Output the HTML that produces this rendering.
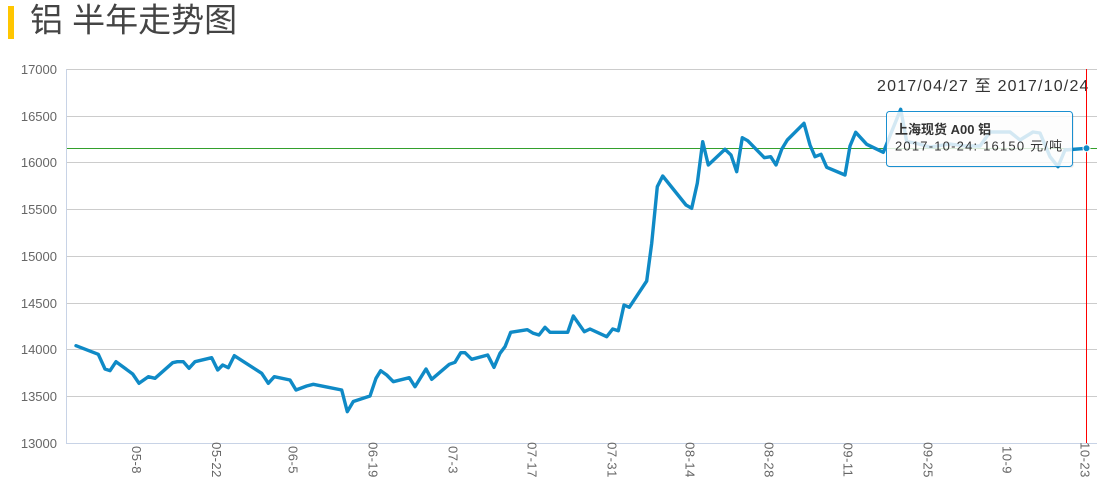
<!DOCTYPE html>
<html>
<head>
<meta charset="utf-8">
<style>
  html,body{margin:0;padding:0;background:#fff;}
  body{width:1116px;height:495px;overflow:hidden;position:relative;}
  svg{position:absolute;left:0;top:0;}
  .yl{font-family:"Liberation Sans","Noto Sans CJK SC",sans-serif;font-size:13px;fill:#666;}
  .xl{font-family:"Liberation Sans","Noto Sans CJK SC",sans-serif;font-size:13px;fill:#666;letter-spacing:0.5px;}
</style>
</head>
<body>
<svg width="1116" height="495" viewBox="0 0 1116 495" xmlns="http://www.w3.org/2000/svg">
  <!-- title -->
  <rect x="8" y="6" width="6" height="33" fill="#ffc600"/>
  <text x="30" y="31.5" font-family="'Liberation Sans','Noto Sans CJK SC',sans-serif" font-size="33" fill="#444">铝 半年走势图</text>

  <!-- gridlines -->
  <g stroke="#cccccc" stroke-width="1">
    <line x1="67" y1="69.5" x2="1097" y2="69.5"/>
    <line x1="67" y1="116.5" x2="1097" y2="116.5"/>
    <line x1="67" y1="162.5" x2="1097" y2="162.5"/>
    <line x1="67" y1="209.5" x2="1097" y2="209.5"/>
    <line x1="67" y1="256.5" x2="1097" y2="256.5"/>
    <line x1="67" y1="303.5" x2="1097" y2="303.5"/>
    <line x1="67" y1="349.5" x2="1097" y2="349.5"/>
    <line x1="67" y1="396.5" x2="1097" y2="396.5"/>
  </g>
  <!-- axes -->
  <line x1="66.5" y1="69" x2="66.5" y2="443.5" stroke="#c8d3e6" stroke-width="1"/>
  <line x1="66" y1="443.5" x2="1097" y2="443.5" stroke="#c8d3e6" stroke-width="1"/>

  <!-- y labels -->
  <g class="yl" text-anchor="end">
    <text x="57" y="74">17000</text>
    <text x="57" y="121">16500</text>
    <text x="57" y="167">16000</text>
    <text x="57" y="214">15500</text>
    <text x="57" y="261">15000</text>
    <text x="57" y="308">14500</text>
    <text x="57" y="354">14000</text>
    <text x="57" y="401">13500</text>
    <text x="57" y="448">13000</text>
  </g>

  <!-- x labels (rotated) -->
  <g class="xl" text-anchor="middle">
    <text transform="translate(136.7,460) rotate(90)" dy="0.35em">05-8</text>
    <text transform="translate(216.7,460) rotate(90)" dy="0.35em">05-22</text>
    <text transform="translate(293,460) rotate(90)" dy="0.35em">06-5</text>
    <text transform="translate(373,460) rotate(90)" dy="0.35em">06-19</text>
    <text transform="translate(453,460) rotate(90)" dy="0.35em">07-3</text>
    <text transform="translate(532,460) rotate(90)" dy="0.35em">07-17</text>
    <text transform="translate(612,460) rotate(90)" dy="0.35em">07-31</text>
    <text transform="translate(690,460) rotate(90)" dy="0.35em">08-14</text>
    <text transform="translate(769,460) rotate(90)" dy="0.35em">08-28</text>
    <text transform="translate(848,460) rotate(90)" dy="0.35em">09-11</text>
    <text transform="translate(928,460) rotate(90)" dy="0.35em">09-25</text>
    <text transform="translate(1007,460) rotate(90)" dy="0.35em">10-9</text>
    <text transform="translate(1085,460) rotate(90)" dy="0.35em">10-23</text>
  </g>

  <!-- green reference line -->
  <line x1="67" y1="148.5" x2="1097" y2="148.5" stroke="#33a02c" stroke-width="1"/>

  <!-- date range -->
  <text x="877" y="91" font-family="'Liberation Sans','Noto Sans CJK SC',sans-serif" font-size="16" fill="#333" letter-spacing="1.2">2017/04/27 至 2017/10/24</text>

  <!-- series -->
  <polyline fill="none" stroke="#0f8ac6" stroke-width="3.4" stroke-linejoin="round" stroke-linecap="round" points="
76,345.7 98.3,354.3 105,369 110,370.7 116,361.7 132.7,374 139,383.3 148.3,376.7 155,378.3 172.7,362.7 177.3,361.7 183.3,361.7 189,368.3 195,361.7 211.7,357.7 217.7,370 222.7,365 228.3,367.7 234.3,355.7 261.7,373.3 268.3,383.3 274.3,376.7 290,380 296,390 306.7,386 313.3,384.3 328.3,387.3 341.7,390 347.3,411.7 353.3,401.5 370,396 376,378.3 380.7,370.7 386.7,375 393.3,381.7 409.3,377.7 415,386.7 426,369 431.7,379.3 449.3,364.3 455,362.3 460.7,352.7 465,352.7 471.7,359.3 487.7,355 494,367.3 500,353.3 505,346.7 510.7,332.3 527.3,329.7 533.3,333.3 539,335 545,327.3 550,332.3 567.7,332.3 573.3,316 584.3,331.7 590,329 606.7,336.7 612.7,329 618.3,330.7 624,305 629.3,307.3 646.7,281 651.7,243.3 657.3,186.7 662.7,176 686,205 691.7,208.3 697.3,183.3 702.7,141.7 708.3,165 725,149.3 731,155 736.7,171.7 742.3,137.7 747.7,140.7 764.3,157.7 770.7,156.7 776,165 781.7,149.3 787.3,140 804,123.3 810,145 815,156.7 821,154.3 826.7,167.3 845,175 850,146 855.7,132.3 866.7,144.3 883.3,152.3 900.7,109.3 906.7,141.7 915,143 930,147 950,144 965,146 980,146 990,132 1010,132 1020,140 1033,132 1040,133 1050,156.7 1058,166.7 1065,150 1086.5,148.3"/>

  <!-- red crosshair -->
  <line x1="1086.5" y1="69" x2="1086.5" y2="443" stroke="#ff0000" stroke-width="1"/>
  <circle cx="1086.5" cy="148.3" r="3.5" fill="#0f8ac6" stroke="#ffffff" stroke-width="1"/>

  <!-- tooltip -->
  <rect x="887" y="112" width="186" height="55" rx="3" ry="3" fill="rgba(0,0,0,0.06)" transform="translate(1,1)"/>
  <rect x="886.5" y="111.5" width="186" height="55" rx="3" ry="3" fill="rgba(255,255,255,0.82)" stroke="#1a8fd0" stroke-width="1"/>
  <text x="895" y="134" font-family="'Liberation Sans','Noto Sans CJK SC',sans-serif" font-size="13" font-weight="bold" fill="#333">上海现货 A00 铝</text>
  <text x="895" y="150.5" font-family="'Liberation Sans','Noto Sans CJK SC',sans-serif" font-size="13" fill="#333" letter-spacing="1.2">2017-10-24: 16150 元/吨</text>
</svg>
</body>
</html>
